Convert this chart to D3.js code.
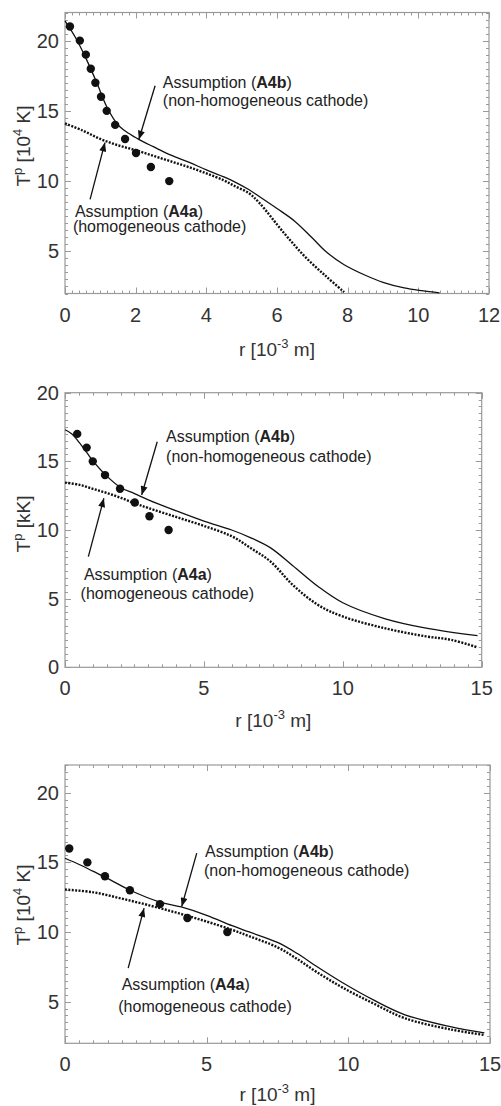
<!DOCTYPE html>
<html><head><meta charset="utf-8">
<script src="https://cdn.jsdelivr.net/npm/d3@7"></script>
<style>body{margin:0;background:#fff}svg{display:block}text{font-family:Arial,"Liberation Sans",sans-serif}</style>
</head><body><svg id="c" width="501" height="1106"></svg>
<script>
// ---------- Panel 1 (T^p in 10^4 K) ----------
const p1SolidR = [0,0.3,0.6,0.9,1.2,1.5,1.8,2.1,2.5,3.0,3.5,4.0,4.5,4.8,5.2,5.5,6.0,6.5,7.0,7.4,7.9,8.5,9.0,9.6,10.1,10.6];
const p1SolidT = [21.4,20.2,18.7,17.0,15.2,14.0,13.4,12.95,12.45,11.85,11.35,10.8,10.3,9.95,9.4,8.9,8.05,7.15,5.95,4.95,4.05,3.3,2.8,2.4,2.2,2.05];
const p1DotR = [0,0.5,1.0,1.5,2.0,2.5,3.0,3.5,4.0,4.5,4.8,5.2,5.5,6.2,6.8,7.4,7.9];
const p1DotT = [14.1,13.6,13.0,12.55,12.2,11.8,11.4,11.0,10.55,10.05,9.65,9.15,8.45,6.3,4.6,3.2,2.1];
const p1PtsR = [0.14,0.42,0.59,0.73,0.86,1.02,1.18,1.42,1.70,2.01,2.43,2.95];
const p1PtsT = [21,20,19,18,17,16,15,14,13,12,11,10];
const p1XTicks = [0,2,4,6,8,10,12];
const p1YTicks = [5,10,15,20];

// ---------- Panel 2 (T^p in kK) ----------
const p2SolidR = [0,0.25,0.5,0.8,1.0,1.44,2.0,2.5,3.0,4.0,5.0,6.0,6.67,7.4,8.2,9.1,10.0,11.5,13.0,14.85];
const p2SolidT = [17.3,17.0,16.4,15.6,15.05,14.05,13.1,12.65,12.2,11.4,10.65,10.0,9.45,8.7,7.4,5.9,4.7,3.55,2.85,2.3];
const p2DotR = [0,0.5,1.0,1.5,2.0,2.5,3.0,4.0,5.0,6.0,6.67,7.4,8.2,9.1,10.0,11.5,13.0,13.9,14.85];
const p2DotT = [13.45,13.3,13.0,12.7,12.35,11.95,11.6,10.95,10.3,9.55,8.7,7.7,6.0,4.55,3.7,2.85,2.25,2.0,1.45];
const p2PtsR = [0.44,0.78,1.0,1.44,1.98,2.51,3.04,3.73];
const p2PtsT = [17,16,15,14,13,12,11,10];
const p2XTicks = [0,5,10,15];
const p2YTicks = [0,5,10,15,20];

// ---------- Panel 3 (T^p in 10^4 K) ----------
const p3SolidR = [0,0.5,1.0,1.6,2.3,3.35,4.1,5.0,5.9,6.5,7.5,8.2,8.9,9.8,10.9,12.0,13.6,14.8];
const p3SolidT = [15.3,14.85,14.35,13.75,13.0,12.15,11.8,11.2,10.45,10.0,9.25,8.45,7.5,6.35,5.1,4.05,3.2,2.75];
const p3DotR = [0,1.0,2.0,3.0,4.0,5.0,5.9,6.5,7.5,8.2,8.9,9.8,10.9,12.0,13.6,14.8];
const p3DotT = [13.05,12.85,12.4,11.9,11.35,10.75,10.15,9.7,8.9,8.05,7.1,6.0,4.85,3.8,3.0,2.6];
const p3PtsR = [0.15,0.79,1.41,2.29,3.35,4.32,5.73];
const p3PtsT = [16,15,14,13,12,11,10];
const p3XTicks = [0,5,10,15];
const p3YTicks = [5,10,15,20];

// ---------- layout ----------
const panels = [
  {left:65,right:489,top:12.5,bottom:293.5,xDom:[0,12],yDom:[2,22],xMinor:0.2,xMajor:2,yMinor:0.5,yMajor:5,
   xTicks:p1XTicks,yTicks:p1YTicks,unit:"104",sR:p1SolidR,sT:p1SolidT,dR:p1DotR,dT:p1DotT,pR:p1PtsR,pT:p1PtsT,
   yTitleC:146,xTitleDy:62.5,
   bArrow:[[2.55,16.79],[2.09,12.96]],aArrow:[[0.71,8.7],[1.13,12.74]],
   bText:[2.77,16.65,0,18],aText:[0.28,7.45,-2,15],mask:false},
  {left:65,right:481.7,top:392.7,bottom:667.3,xDom:[0,15],yDom:[0,20],xMinor:0.5,xMajor:5,yMinor:0.5,yMajor:5,
   xTicks:p2XTicks,yTicks:p2YTicks,unit:"kK",sR:p2SolidR,sT:p2SolidT,dR:p2DotR,dT:p2DotT,pR:p2PtsR,pT:p2PtsT,
   yTitleC:524,xTitleDy:60,
   bArrow:[[3.32,16.43],[2.76,12.55]],aArrow:[[0.84,8.06],[1.40,12.31]],
   bText:[3.64,16.43,0,20],aText:[0.68,6.36,-3.3,19],mask:true},
  {left:65,right:490,top:765,bottom:1043.3,xDom:[0,15],yDom:[2,22],xMinor:0.5,xMajor:5,yMinor:0.5,yMajor:5,
   xTicks:p3XTicks,yTicks:p3YTicks,unit:"104",sR:p3SolidR,sT:p3SolidT,dR:p3DotR,dT:p3DotT,pR:p3PtsR,pT:p3PtsT,
   yTitleC:905,xTitleDy:58,
   bArrow:[[4.65,15.67],[4.12,11.83]],aArrow:[[2.23,7.4],[2.79,11.71]],
   bText:[4.94,15.38,-1,19],aText:[2.0,5.83,-3.4,21.7],mask:false}
];

const svg = d3.select("#c");
svg.append("defs").append("marker").attr("id","ah")
  .attr("viewBox","0 0 10 8").attr("refX",10).attr("refY",4)
  .attr("markerWidth",10).attr("markerHeight",7).attr("markerUnits","userSpaceOnUse")
  .attr("orient","auto").append("path").attr("d","M0,0 L10,4 L0,8 Z").attr("fill","#111");

const frameCol = "#9a9a9a", textCol = "#333";

panels.forEach(p => {
  const x = d3.scaleLinear().domain(p.xDom).range([p.left,p.right]);
  const y = d3.scaleLinear().domain(p.yDom).range([p.bottom,p.top]);
  const g = svg.append("g");
  const eps = 1e-6;
  const isMaj = (v,m) => Math.abs(v/m - Math.round(v/m)) < 1e-6;
  const xs = d3.range(p.xDom[0], p.xDom[1]+eps, p.xMinor);
  const ys = d3.range(p.yDom[0], p.yDom[1]+eps, p.yMinor);
  const tg = g.append("g").attr("stroke",frameCol).attr("stroke-width",1);
  xs.forEach(v => {
    const L = isMaj(v,p.xMajor) ? 6 : 3, px = Math.round(x(v))+0.5;
    tg.append("line").attr("x1",px).attr("x2",px).attr("y1",p.bottom).attr("y2",p.bottom-L);
    tg.append("line").attr("x1",px).attr("x2",px).attr("y1",p.top).attr("y2",p.top+L);
  });
  ys.forEach(v => {
    const L = isMaj(v,p.yMajor) ? 6 : 3, py = Math.round(y(v))+0.5;
    tg.append("line").attr("y1",py).attr("y2",py).attr("x1",p.left).attr("x2",p.left+L);
    tg.append("line").attr("y1",py).attr("y2",py).attr("x1",p.right).attr("x2",p.right-L);
  });
  g.append("rect").attr("x",p.left).attr("y",p.top).attr("width",p.right-p.left).attr("height",p.bottom-p.top)
    .attr("fill","none").attr("stroke",frameCol).attr("stroke-width",1.2);
  g.selectAll(null).data(p.xTicks).join("text").attr("x",d=>x(d)).attr("y",p.bottom+28)
    .attr("text-anchor","middle").attr("font-size",20).attr("fill",textCol).text(d=>d);
  g.selectAll(null).data(p.yTicks).join("text").attr("x",p.left-6).attr("y",d=>y(d)).attr("dy","0.35em")
    .attr("text-anchor","end").attr("font-size",20).attr("fill",textCol).text(d=>d);
  const xt = g.append("text").attr("x",(p.left+p.right)/2).attr("y",p.bottom+p.xTitleDy)
    .attr("text-anchor","middle").attr("font-size",19).attr("fill",textCol);
  xt.append("tspan").text("r [10");
  xt.append("tspan").attr("dy",-8).attr("font-size",13).text("-3");
  xt.append("tspan").attr("dy",8).text(" m]");
  const yt = g.append("text").attr("transform",`translate(30,${p.yTitleC}) rotate(-90)`)
    .attr("text-anchor","middle").attr("font-size",19).attr("fill",textCol);
  yt.append("tspan").text("T");
  yt.append("tspan").attr("dy",-8).attr("font-size",13).text("p");
  if (p.unit === "104") {
    yt.append("tspan").attr("dy",8).text(" [10");
    yt.append("tspan").attr("dy",-8).attr("font-size",13).text("4");
    yt.append("tspan").attr("dy",8).text(" K]");
  } else {
    yt.append("tspan").attr("dy",8).text(" [kK]");
  }
  const line = d3.line().x(d=>x(d[0])).y(d=>y(d[1])).curve(d3.curveCatmullRom.alpha(0.5));
  g.append("path").datum(d3.zip(p.dR,p.dT)).attr("d",line).attr("fill","none")
    .attr("stroke","#111").attr("stroke-width",2.4).attr("stroke-dasharray","2,1.4");
  g.append("path").datum(d3.zip(p.sR,p.sT)).attr("d",line).attr("fill","none")
    .attr("stroke","#111").attr("stroke-width",1.3);
  g.selectAll(null).data(d3.zip(p.pR,p.pT)).join("circle")
    .attr("cx",d=>x(d[0])).attr("cy",d=>y(d[1])).attr("r",4.2).attr("fill","#111");
  [[p.bArrow,p.bText,"A4b","(non-homogeneous cathode)"],[p.aArrow,p.aText,"A4a","(homogeneous cathode)"]].forEach(([ar,tx,lab,l2],i)=>{
    g.append("line").attr("x1",x(ar[0][0])).attr("y1",y(ar[0][1])).attr("x2",x(ar[1][0])).attr("y2",y(ar[1][1]))
      .attr("stroke","#111").attr("stroke-width",1.3).attr("marker-end","url(#ah)");
    const tx0 = x(tx[0]), ty0 = y(tx[1]);
    const t1 = g.append("text").attr("x",tx0).attr("y",ty0).attr("font-size",16).attr("fill","#222");
    t1.append("tspan").text("Assumption (");
    t1.append("tspan").attr("font-weight","bold").text(lab);
    t1.append("tspan").text(")");
    const t2 = g.append("text").attr("x",tx0+tx[2]).attr("y",ty0+tx[3]).attr("font-size",16).attr("fill","#222").text(l2);
    if (p.mask && i===1) {
      const bb = t2.node().getBBox();
      g.insert("rect", () => t2.node()).attr("x",bb.x-2).attr("y",ty0+tx[3]-16).attr("width",bb.width+4).attr("height",20).attr("fill","#fff");
    }
  });
});
</script></body></html>
